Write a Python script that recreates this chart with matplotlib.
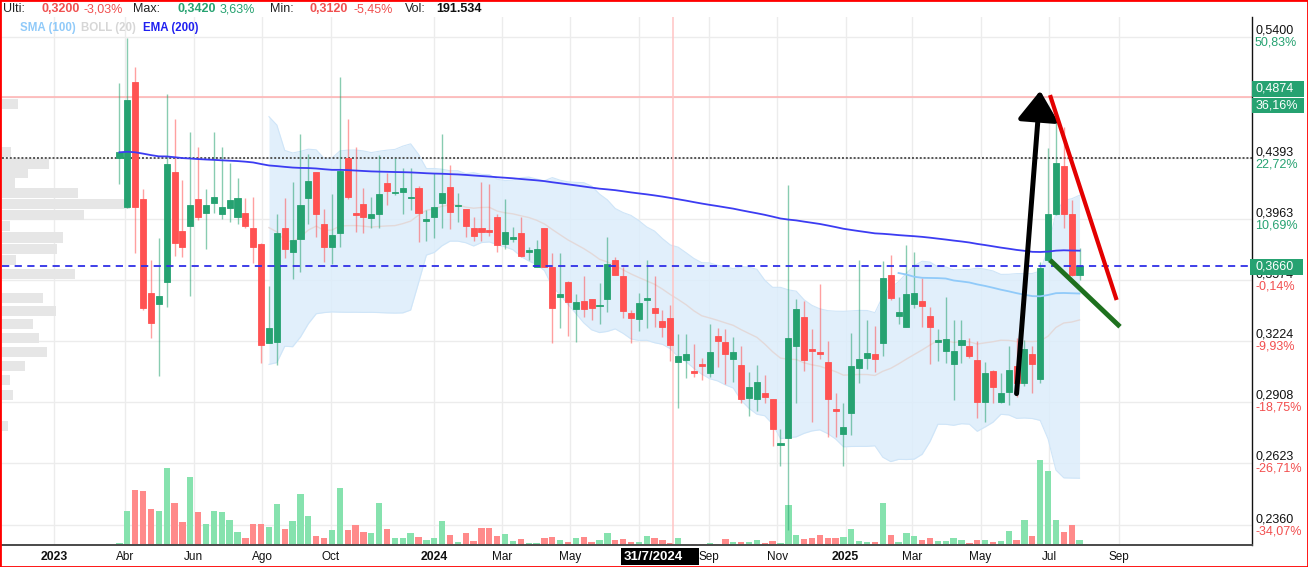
import numpy as np
import pandas as pd
import matplotlib
matplotlib.use("Agg")
import matplotlib.pyplot as plt
import matplotlib.dates as mdates
from matplotlib.patches import Rectangle, FancyArrowPatch
from matplotlib.transforms import blended_transform_factory, offset_copy, IdentityTransform
from matplotlib.ticker import NullLocator

plt.rcParams['font.family'] = ['Liberation Sans', 'DejaVu Sans']

# ---------------- weekly OHLC data ----------------
first_week = "2023-03-27"
opens = [0.4398, 0.4048, 0.4998, 0.4099, 0.3496, 0.3431, 0.3565, 0.4291, 0.3886, 0.3920,
         0.4099, 0.4003, 0.4071, 0.3996, 0.4041, 0.3980, 0.4007, 0.3902, 0.3800, 0.3214,
         0.3220, 0.3902, 0.3750, 0.3831, 0.4110, 0.4291, 0.3931, 0.3778, 0.3873, 0.4394,
         0.4004, 0.4064, 0.3973, 0.3996, 0.4212, 0.4141, 0.4152, 0.4106, 0.4181, 0.3951,
         0.3980, 0.4071, 0.4188, 0.4053, 0.4030, 0.3902, 0.3902, 0.3889, 0.3976, 0.3800,
         0.3833, 0.3870, 0.3748, 0.3656, 0.3902, 0.3656, 0.3476, 0.3565, 0.3404, 0.3452,
         0.3460, 0.3423, 0.3462, 0.3698, 0.3599, 0.3382, 0.3347, 0.3456, 0.3408, 0.3337,
         0.3351, 0.3113, 0.3122, 0.3064, 0.3099, 0.3055, 0.3251, 0.3217, 0.3126, 0.3096,
         0.2925, 0.2922, 0.2953, 0.2920, 0.2703, 0.2734, 0.3196, 0.3356, 0.3180, 0.3162,
         0.3110, 0.2871, 0.2754, 0.2852, 0.3078, 0.3131, 0.3152, 0.3214, 0.3605, 0.3365,
         0.3303, 0.3431, 0.3452, 0.3364, 0.3220, 0.3171, 0.3101, 0.3202, 0.3198, 0.3122,
         0.2906, 0.3064, 0.2906, 0.2955, 0.3090, 0.3001, 0.3152, 0.3022, 0.3698, 0.3996,
         0.4340, 0.3996, 0.3605]
highs = [0.4994, 0.5387, 0.5132, 0.4169, 0.3698, 0.3841, 0.4897, 0.4695, 0.4235, 0.4597,
         0.4481, 0.4169, 0.4597, 0.4481, 0.4357, 0.4247, 0.4106, 0.4117, 0.3805, 0.3539,
         0.3998, 0.4106, 0.4219, 0.4579, 0.4424, 0.4293, 0.4030, 0.4136, 0.5040, 0.4695,
         0.4479, 0.4176, 0.4117, 0.4419, 0.4284, 0.4394, 0.4325, 0.4325, 0.4190, 0.4025,
         0.4286, 0.4579, 0.4344, 0.4145, 0.4035, 0.3976, 0.4219, 0.4205, 0.3998, 0.4099,
         0.3913, 0.3976, 0.3782, 0.3826, 0.3906, 0.3744, 0.3740, 0.3568, 0.3491, 0.3599,
         0.3463, 0.3559, 0.3848, 0.3719, 0.3656, 0.3398, 0.3499, 0.3698, 0.3599, 0.3398,
         0.3427, 0.3261, 0.3261, 0.3206, 0.3131, 0.3319, 0.3295, 0.3291, 0.3244, 0.3198,
         0.3060, 0.3096, 0.3044, 0.2923, 0.2775, 0.4200, 0.3460, 0.3452, 0.3291, 0.3551,
         0.3225, 0.2950, 0.2901, 0.3266, 0.3698, 0.3341, 0.3309, 0.3692, 0.3730, 0.3472,
         0.3794, 0.3750, 0.3585, 0.3417, 0.3289, 0.3476, 0.3341, 0.3341, 0.3238, 0.3225,
         0.3113, 0.3067, 0.3053, 0.3198, 0.3238, 0.3229, 0.3198, 0.3686, 0.4469, 0.4705,
         0.4636, 0.4094, 0.3772]
lows = [0.4207, 0.4040, 0.3742, 0.3398, 0.3238, 0.3038, 0.3417, 0.3723, 0.3719, 0.3480,
        0.3958, 0.3766, 0.4003, 0.3963, 0.3943, 0.3930, 0.3902, 0.3677, 0.3108, 0.3211,
        0.3096, 0.3709, 0.3579, 0.3626, 0.3930, 0.3848, 0.3687, 0.3673, 0.3778, 0.4099,
        0.3880, 0.3870, 0.3902, 0.3902, 0.4060, 0.4129, 0.3998, 0.4025, 0.3815, 0.3820,
        0.3839, 0.3902, 0.3897, 0.3947, 0.3844, 0.3820, 0.3820, 0.3852, 0.3747, 0.3768,
        0.3815, 0.3719, 0.3698, 0.3654, 0.3652, 0.3214, 0.3295, 0.3251, 0.3220, 0.3360,
        0.3341, 0.3319, 0.3388, 0.3603, 0.3351, 0.3214, 0.3279, 0.3295, 0.3300, 0.3247,
        0.3118, 0.2879, 0.3030, 0.3035, 0.3018, 0.3035, 0.3086, 0.2996, 0.3009, 0.2901,
        0.2840, 0.2863, 0.2901, 0.2698, 0.2609, 0.2341, 0.2901, 0.3064, 0.2809, 0.3127,
        0.2741, 0.2741, 0.2609, 0.2749, 0.3001, 0.3073, 0.3060, 0.3143, 0.3456, 0.3319,
        0.3300, 0.3408, 0.3300, 0.3099, 0.3118, 0.3108, 0.2917, 0.3108, 0.3131, 0.2828,
        0.2809, 0.2901, 0.2904, 0.2893, 0.2933, 0.2987, 0.2953, 0.3001, 0.3687, 0.3991,
        0.3902, 0.3599, 0.3575]
closes = [0.4439, 0.4850, 0.4048, 0.3408, 0.3323, 0.3480, 0.4350, 0.3805, 0.3778, 0.4060,
          0.3980, 0.4060, 0.4117, 0.4046, 0.4092, 0.4106, 0.3920, 0.3778, 0.3202, 0.3295,
          0.3873, 0.3766, 0.3826, 0.4060, 0.4228, 0.3996, 0.3778, 0.3858, 0.4303, 0.4117,
          0.3991, 0.3980, 0.3996, 0.4134, 0.4157, 0.4148, 0.4181, 0.4117, 0.4003, 0.3963,
          0.4048, 0.4141, 0.4009, 0.4060, 0.3918, 0.3852, 0.3876, 0.3878, 0.3794, 0.3880,
          0.3848, 0.3723, 0.3761, 0.3769, 0.3656, 0.3411, 0.3491, 0.3443, 0.3446, 0.3404,
          0.3411, 0.3427, 0.3671, 0.3605, 0.3392, 0.3354, 0.3440, 0.3468, 0.3382, 0.3303,
          0.3202, 0.3145, 0.3152, 0.3055, 0.3092, 0.3162, 0.3225, 0.3154, 0.3166, 0.2922,
          0.2981, 0.3009, 0.2933, 0.2775, 0.2714, 0.3242, 0.3402, 0.3122, 0.3171, 0.3154,
          0.2920, 0.2865, 0.2788, 0.3090, 0.3126, 0.3157, 0.3126, 0.3589, 0.3470, 0.3388,
          0.3491, 0.3499, 0.3423, 0.3303, 0.3229, 0.3236, 0.3168, 0.3229, 0.3143, 0.2906,
          0.3053, 0.2984, 0.2953, 0.3069, 0.3001, 0.3180, 0.3101, 0.3650, 0.3998, 0.4357,
          0.3996, 0.3605, 0.3660]
# weekly volume, thousands of shares
volumes = [15, 344, 547, 536, 356, 344, 765, 417, 226, 677,
           325, 210, 344, 325, 253, 134, 69, 210, 210, 184,
           406, 161, 237, 509, 287, 92, 69, 149, 574, 149,
           195, 134, 119, 417, 161, 69, 69, 119, 80, 46,
           69, 237, 103, 27, 119, 42, 172, 172, 92, 107,
           42, 57, 23, 23, 69, 80, 46, 31, 69, 80,
           31, 46, 119, 46, 57, 31, 31, 92, 69, 46,
           23, 69, 10, 12, 10, 18, 10, 61, 25, 29,
           25, 50, 18, 39, 18, 396, 96, 61, 71, 96,
           71, 71, 82, 157, 39, 30, 25, 421, 96, 25,
           121, 86, 50, 71, 39, 36, 71, 50, 18, 50,
           50, 29, 39, 136, 50, 254, 86, 846, 739, 254,
           125, 196, 50]

# volume-at-price profile (bin centre price, relative volume)
profile_prices = [0.4815, 0.4443, 0.4354, 0.4286, 0.4216, 0.4143, 0.4068, 0.3993, 0.3919, 0.3842,
                  0.3770, 0.3696, 0.3613, 0.3466, 0.3393, 0.3316, 0.3241, 0.3162, 0.3089, 0.3016,
                  0.2944, 0.2790]
profile_volume = [160, 93, 467, 260, 133, 757, 1280, 823, 83, 607,
                  550, 140, 727, 407, 543, 307, 367, 453, 233, 83,
                  110, 60]

# axis labels (the July 2024 month label sits under the cursor date box)
price_levels = [0.5400, 0.4874, 0.4393, 0.3963, 0.3574, 0.3224, 0.2908, 0.2623, 0.2360]
pct_labels = ["50,83%", "36,16%", "22,72%", "10,69%", "-0,14%", "-9,93%", "-18,75%", "-26,71%", "-34,07%"]
grid_dates = ["2023-01-28", "2023-04-01", "2023-06-01", "2023-08-01", "2023-10-01", "2024-01-01",
              "2024-03-01", "2024-05-01", "2024-07-01", "2024-09-01", "2024-11-01", "2025-01-01",
              "2025-03-01", "2025-05-01", "2025-07-01", "2025-09-01"]
tick_dates = ["2023-01-28", "2023-04-01", "2023-06-01", "2023-08-01", "2023-10-01", "2024-01-01",
              "2024-03-01", "2024-05-01", "2024-09-01", "2024-11-01", "2025-01-01",
              "2025-03-01", "2025-05-01", "2025-07-01", "2025-09-01"]
tick_labels = ["2023", "Abr", "Jun", "Ago", "Oct", "2024", "Mar", "May", "Sep", "Nov",
               "2025", "Mar", "May", "Jul", "Sep"]

# reference levels and hand-drawn trend lines
last_price = 0.3660
max_level = 0.4874
max_pct = "36,16%"
resistance_level = 0.4393
cursor_date = "2024-07-31"
cursor_label = "31/7/2024"
arrow_up = [("2025-06-02", 0.2949), ("2025-06-23", 0.4927)]
red_trend = [("2025-07-01 18:00", 0.4891), ("2025-08-30", 0.3456)]
green_trend = [("2025-07-01 18:00", 0.3698), ("2025-09-02", 0.3303)]

header = [("Ulti:", "#222222", "normal", 3), ("0,3200", "#f05050", "bold", 42), ("-3,03%", "#f05050", "normal", 84),
          ("Max:", "#222222", "normal", 133), ("0,3420", "#26a271", "bold", 177), ("3,63%", "#26a271", "normal", 220),
          ("Min:", "#222222", "normal", 270), ("0,3120", "#f05050", "bold", 310), ("-5,45%", "#f05050", "normal", 354),
          ("Vol:", "#222222", "normal", 405), ("191.534", "#111111", "bold", 436)]
legend_items = [("SMA (100)", "#90caf9", 20), ("BOLL (20)", "#d6d6d6", 81), ("EMA (200)", "#1f1ff0", 143)]

# ---------------- colours ----------------
UP = "#26a271"
DOWN = "#ff5252"
UP_VOL = "#86e2ae"
DOWN_VOL = "#ff8a8a"
GRID = "#ececec"

# ---------------- figure ----------------
W, H = 1308, 567
fig = plt.figure(figsize=(W / 100, H / 100), dpi=100)
fig.patch.set_facecolor("white")
AX_L, AX_R, AX_T, AX_B = 2, 1252, 17, 545
ax = fig.add_axes([AX_L / W, 1 - AX_B / H, (AX_R - AX_L) / W, (AX_B - AX_T) / H])
ax.set_facecolor("white")

dates = pd.date_range(first_week, periods=len(closes), freq="7D")
xd = mdates.date2num(dates)
o = np.array(opens); h = np.array(highs); l = np.array(lows); c = np.array(closes)
up = c >= o

x_lo = mdates.date2num(pd.Timestamp("2022-12-12 12:00"))
x_hi = mdates.date2num(pd.Timestamp("2025-12-28 10:00"))
ax.set_xlim(x_lo, x_hi)
ax.set_yscale("log")
ax.set_ylim(0.22815, 0.55831)
ax.set_xticks([]); ax.set_yticks([])
ax.xaxis.set_minor_locator(NullLocator()); ax.yaxis.set_minor_locator(NullLocator())
for s in ("top", "left"):
    ax.spines[s].set_visible(False)
ax.spines["right"].set_color("#111111"); ax.spines["right"].set_linewidth(1.0)
ax.spines["bottom"].set_color("#4a4a4a"); ax.spines["bottom"].set_linewidth(1.4)

# grid
for tx in mdates.date2num(pd.to_datetime(grid_dates)):
    ax.axvline(tx, color=GRID, lw=1.0, zorder=0)
for p in price_levels:
    ax.axhline(p, color=GRID, lw=1.0, zorder=0)

# volume-at-price profile on the left edge
trans_ax_data = blended_transform_factory(ax.transAxes, ax.transData)
pmax = max(profile_volume)
half = np.exp(0.0085)
for p, v in zip(profile_prices, profile_volume):
    ax.add_patch(Rectangle((0, p / half), v / pmax * 0.1024, p * half - p / half,
                           transform=trans_ax_data, color="#e6e6e6", lw=0, zorder=0.5))

# Bollinger band (20, 2) and moving averages
cs = pd.Series(closes)
mid = cs.rolling(20).mean()
sd = cs.rolling(20).std(ddof=0)
upper, lower = mid + 2 * sd, mid - 2 * sd
ok = mid.notna().values
ax.fill_between(xd[ok], lower[ok], upper[ok], color="#dcedfb", alpha=0.85, lw=0, zorder=1)
ax.plot(xd[ok], upper[ok], color="#cfe5f8", lw=0.8, zorder=1.1)
ax.plot(xd[ok], lower[ok], color="#cfe5f8", lw=0.8, zorder=1.1)
ax.plot(xd[ok], mid[ok], color="#e3d9d9", lw=1.0, zorder=1.2)
sma100 = cs.rolling(100).mean()
ema200 = cs.ewm(span=200, adjust=False).mean()

# volume bars along the bottom
trans_data_ax = blended_transform_factory(ax.transData, ax.transAxes)
vol_top = max(volumes) * 6.24
vw = 5.6
for xi, v, u in zip(xd, volumes, up):
    ax.add_patch(Rectangle((xi - vw / 2, 0), vw, v / vol_top, transform=trans_data_ax,
                           color=UP_VOL if u else DOWN_VOL, lw=0, zorder=1.5))

# candles
bw = 5.4
for xi, oo, hh, ll, cc, u in zip(xd, o, h, l, c, up):
    col = UP if u else DOWN
    ax.vlines(xi, ll, hh, color=col, alpha=0.55, lw=1.0, zorder=2.5)
    lo_b, hi_b = min(oo, cc), max(oo, cc)
    ax.add_patch(Rectangle((xi - bw / 2, lo_b), bw, hi_b - lo_b, facecolor=col,
                           edgecolor=col, lw=0.6, zorder=3))

ax.plot(xd, sma100, color="#90caf9", lw=1.3, zorder=4)
ax.plot(xd, ema200, color="#3c3cf2", lw=1.3, zorder=4)

# reference lines
ax.axhline(max_level, color="#ffb0b0", lw=1.1, zorder=2)
ax.axhline(resistance_level, color="#555555", lw=1.4, ls=(0, (1, 1)), zorder=2)
ax.axhline(last_price, color="#2f2fe6", lw=1.3, ls=(0, (4, 3)), zorder=5)
cur_x = mdates.date2num(pd.Timestamp(cursor_date))
ax.axvline(cur_x, color="#ffc4c4", lw=1.1, zorder=2)

# trend drawings
def pts(seg):
    return [(mdates.date2num(pd.Timestamp(d)), p) for d, p in seg]

a0, a1 = pts(arrow_up)
ax.add_patch(FancyArrowPatch(a0, a1, arrowstyle="-|>,head_length=0.9,head_width=0.62",
                             mutation_scale=20, lw=3.6, color="black", shrinkA=0, shrinkB=0,
                             zorder=7))
r0, r1 = pts(red_trend)
ax.plot([r0[0], r1[0]], [r0[1], r1[1]], color="#e30000", lw=3.0, solid_capstyle="butt", zorder=7)
g0, g1 = pts(green_trend)
ax.plot([g0[0], g1[0]], [g0[1], g1[1]], color="#1e701e", lw=3.5, solid_capstyle="butt", zorder=7)

# right-hand price scale
for p, pct in zip(price_levels, pct_labels):
    ax.text(1.0024, p, f"{p:.4f}".replace(".", ","), transform=offset_copy(trans_ax_data, fig=fig, y=6, units="dots"),
            ha="left", va="center", fontsize=9, color="#111111", clip_on=False)
    ax.text(1.0024, p, pct, transform=offset_copy(trans_ax_data, fig=fig, y=-6, units="dots"),
            ha="left", va="center", fontsize=9, color=UP if not pct.startswith("-") else "#f24f4f",
            clip_on=False)

fig.canvas.draw()
def disp_y(price):
    return ax.transData.transform((x_lo, price))[1]

ident = IdentityTransform()
ym = disp_y(max_level)
fig.add_artist(Rectangle((1252, ym + 0.5), 52, 16, transform=ident, color=UP, lw=0, zorder=5))
fig.add_artist(Rectangle((1252, ym - 16), 52, 15.5, transform=ident, color=UP, lw=0, zorder=5))
fig.text(1256 / W, (ym + 8.5) / H, f"{max_level:.4f}".replace(".", ","), color="white", fontsize=9,
         va="center", ha="left", zorder=6)
fig.text(1256 / W, (ym - 8) / H, max_pct, color="white", fontsize=9, va="center", ha="left", zorder=6)
yl = disp_y(last_price)
fig.add_artist(Rectangle((1250, yl - 8.5), 53, 16, transform=ident, color=UP, lw=0, zorder=5))
fig.text(1256 / W, (yl - 0.5) / H, f"{last_price:.4f}".replace(".", ","), color="white", fontsize=9,
         va="center", ha="left", zorder=6)

# bottom date labels
for tx, lab in zip(mdates.date2num(pd.to_datetime(tick_dates)), tick_labels):
    bold = lab.isdigit()
    ax.text(tx, -0.0227, lab, transform=trans_data_ax, ha="center", va="center",
            fontsize=8.8 if bold else 8.5, fontweight="bold" if bold else "normal",
            color="#111111", clip_on=False)
cx_disp = ax.transData.transform((cur_x, 0.3))[0]
fig.add_artist(Rectangle((cx_disp - 52, H - 565), 78, 17, transform=ident, color="black", lw=0, zorder=5))
fig.text((cx_disp - 19) / W, (H - 556.5) / H, cursor_label, color="white", fontsize=9.5,
         fontweight="bold", ha="center", va="center", zorder=6)

# header and indicator legend
for txt, col, wt, xpx in header:
    fig.text(xpx / W, 1 - 9.5 / H, txt, color=col, fontweight=wt, fontsize=9, ha="left", va="center")
for txt, col, xpx in legend_items:
    fig.text(xpx / W, 1 - 27.5 / H, txt, color=col, fontweight="bold", fontsize=8.3, ha="left", va="center")

# outer frame
fig.add_artist(Rectangle((0, 0), 1, 1, transform=fig.transFigure, fill=False, ec="#ff0000", lw=2, zorder=10))

fig.savefig("out.png", dpi=100, facecolor="white")
